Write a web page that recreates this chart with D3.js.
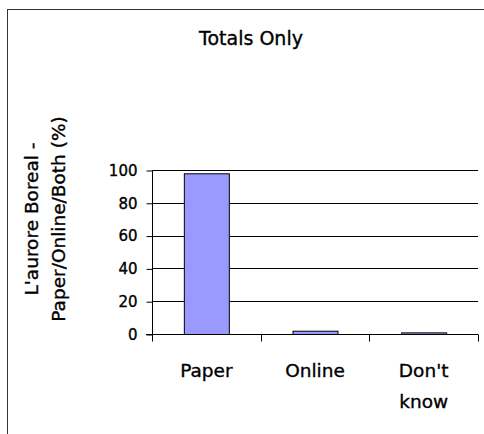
<!DOCTYPE html>
<html><head><meta charset="utf-8">
<script src="https://cdn.jsdelivr.net/npm/d3@7"></script>
<style>body{margin:0;background:#fff}svg{display:block}text{font-family:"DejaVu Sans",Verdana,sans-serif;fill:#000;stroke:#000;stroke-width:0.35px}</style>
</head><body><div id="chart"></div>
<script>
const categories = [["Paper"], ["Online"], ["Don't", "know"]];
const values = [98, 2, 1];
const yTicks = [0, 20, 40, 60, 80, 100];
const title = "Totals Only";
const yTitle = ["L'aurore Boreal -", "Paper/Online/Both (%)"];

const W = 484, H = 434;
const svg = d3.select("#chart").append("svg").attr("width", W).attr("height", H);
svg.append("rect").attr("x", 7.5).attr("y", 9.5).attr("width", W).attr("height", H)
  .attr("fill", "#fff").attr("stroke", "#333").attr("stroke-width", 1);

const pL = 152, pR = 478, pT = 170, pB = 334;
const x = d3.scaleBand().domain(categories.map((c, i) => i)).range([pL, pR]).paddingInner(0).paddingOuter(0);
const y = d3.scaleLinear().domain([0, 100]).range([pB, pT]);

// gridlines
svg.append("g").selectAll("line").data(yTicks).join("line")
  .attr("x1", pL).attr("x2", pR)
  .attr("y1", d => Math.round(y(d)) + 0.5).attr("y2", d => Math.round(y(d)) + 0.5)
  .attr("stroke", "#000").attr("stroke-width", 1);

// y axis
const ya = svg.append("g").attr("transform", `translate(${pL + 0.5},0.5)`)
  .call(d3.axisLeft(y).tickValues(yTicks).tickSize(6).tickPadding(9));
ya.selectAll("text").style("font-size", "15px").style("font-family", '"DejaVu Sans",sans-serif');
ya.selectAll("line,path").attr("stroke", "#000");
ya.select(".domain").attr("d", `M0,${pT}V${pB}`);

// bars
const bw = 45;
svg.append("g").selectAll("rect").data(values).join("rect")
  .attr("x", (d, i) => x(i) + x.bandwidth() / 2 - bw / 2 + 0.5)
  .attr("y", d => y(d) + 0.5)
  .attr("width", bw)
  .attr("height", d => Math.max(0, pB - y(d)))
  .attr("fill", "#9999ff").attr("stroke", "#000").attr("stroke-width", 1);

// x axis
const xa = svg.append("g").attr("transform", `translate(0,${pB + 0.5})`);
xa.append("line").attr("x1", pL - 6).attr("x2", pR).attr("stroke", "#000");
const xTickPos = categories.map((c, i) => x(i)).concat([pR]);
xa.selectAll("line.t").data(xTickPos).join("line").attr("class", "t")
  .attr("x1", d => Math.round(d) + 0.5).attr("x2", d => Math.round(d) + 0.5)
  .attr("y1", 0).attr("y2", 7).attr("stroke", "#000");
const lbl = xa.selectAll("text").data(categories).join("text")
  .attr("text-anchor", "middle")
  .attr("x", (d, i) => x(i) + x.bandwidth() / 2)
  .attr("y", 42)
  .style("font-size", "18.5px");
lbl.selectAll("tspan").data(d => d).join("tspan")
  .attr("x", function () { return d3.select(this.parentNode).attr("x"); })
  .attr("dy", (d, i) => i === 0 ? 0 : 31)
  .text(d => d);

// title
svg.append("text").attr("x", 251).attr("y", 45).attr("text-anchor", "middle")
  .style("font-size", "19px").text(title);

// y title
const yt = svg.append("text").attr("transform", "translate(38,219) rotate(-90)")
  .attr("text-anchor", "middle").style("font-size", "18.5px");
yt.selectAll("tspan").data(yTitle).join("tspan")
  .attr("x", 0).attr("dy", (d, i) => i === 0 ? 0 : 26.5).text(d => d);
</script></body></html>
